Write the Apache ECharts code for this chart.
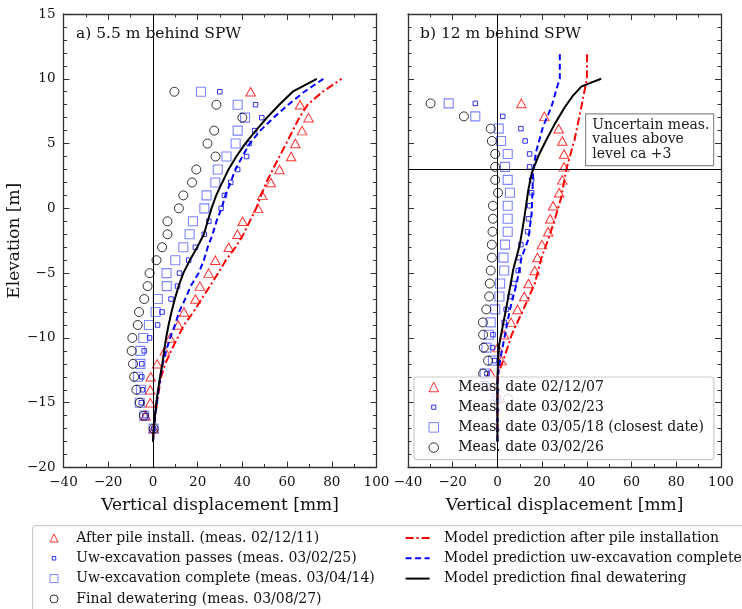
<!DOCTYPE html>
<html>
<head>
<meta charset="utf-8">
<script src="https://cdn.jsdelivr.net/npm/echarts@6/dist/echarts.min.js"></script>
<style>
  html, body { margin: 0; padding: 0; background: #ffffff; }
  #chart { width: 742px; height: 609px; }
</style>
</head>
<body>
<div id="chart"></div>
<script>
// ---------- Panel a) 5.5 m behind SPW : measured levels [m] ----------
const elevA = [9, 8, 7, 6, 5, 4, 3, 2, 1, 0, -1, -2, -3, -4, -5, -6, -7, -8, -9, -10, -11, -12, -13, -14, -15, -16, -17];
// vertical displacement [mm] per survey
const afterPileA   = [43.7, 65.8, 69.6, 66.7, 63.7, 61.8, 56.6, 52.7, 48.9, 47.0, 40.1, 37.8, 33.9, 27.9, 24.9, 21.0, 19.0, 13.9, 11.3, 7.7, 5.3, 1.9, -1.0, -1.2, -1.2, -3.3, 0.3];
const uwPassesA    = [29.9, 45.9, 48.7, 45.5, 43.0, 41.9, 37.9, 34.8, 32.0, 30.5, 25.0, 23.0, 19.0, 16.0, 11.9, 11.0, 8.1, 4.1, 2.1, -1.5, -3.9, -5.0, -5.0, -4.7, -5.2, -3.6, 0.3];
const uwCompleteA  = [21.5, 37.9, 41.2, 37.9, 37.0, 32.9, 29.0, 27.9, 24.0, 23.0, 17.9, 16.4, 13.6, 10.0, 6.1, 6.2, 2.2, 1.2, -1.8, -4.3, -5.6, -5.6, -6.7, -5.3, -5.9, -3.9, 0.3];
const finalDewA    = [9.6, 28.4, 40.0, 27.4, 24.4, 28.0, 19.4, 17.5, 13.6, 11.6, 6.5, 6.5, 4.1, 1.6, -1.5, -2.4, -3.9, -6.2, -6.8, -9.2, -9.5, -8.9, -8.4, -7.4, -5.9, -4.0, 0.3];

// model predictions, panel a
const modelElevA   = [-18, -17, -16, -15, -14, -13, -12, -11, -10, -9, -8, -7, -6, -5, -4, -3, -2, -1, 0, 1, 2, 3, 4, 5, 6, 7, 8, 9, 10];
const modelPileA   = [0, 0.4, 1.0, 1.8, 2.7, 3.7, 5.5, 8.1, 11.0, 13.9, 18.1, 21.8, 25.5, 29.2, 32.6, 37.0, 40.5, 43.3, 46.2, 48.4, 50.7, 53.6, 56.6, 59.6, 62.5, 65.5, 69.2, 75.9, 84.4];
const modelUwA     = [0, 0.6, 1.0, 1.8, 2.5, 3.3, 4.4, 5.9, 7.7, 9.9, 11.7, 14.4, 16.9, 20.4, 22.8, 24.5, 26.7, 28.4, 30.7, 32.4, 34.7, 36.9, 40.0, 43.3, 48.0, 54.0, 60.5, 67.7, 76.3];
const modelDewA    = [0, 0.3, 0.9, 1.5, 2.3, 3.2, 4.2, 5.0, 5.9, 7.0, 8.3, 9.8, 11.5, 13.6, 16.5, 19.8, 22.8, 24.5, 26.2, 28.3, 31.0, 33.8, 37.3, 41.3, 46.0, 51.0, 56.5, 62.5, 73.3];

// ---------- Panel b) 12 m behind SPW ----------
const elevB = [8.1, 7.1, 6.15, 5.2, 4.2, 3.2, 2.2, 1.2, 0.2, -0.8, -1.8, -2.8, -3.8, -4.8, -5.8, -6.8, -7.8, -8.8, -9.75, -10.75, -11.75, -12.75, -13.7, -14.7];
const meas021207 = [10.7, 21.0, 27.4, 29.0, 29.8, 29.8, 29.0, 27.6, 24.9, 23.6, 22.7, 19.9, 17.9, 16.7, 13.9, 12.0, 9.0, 6.1, 3.0, 0.1, 1.8, -3.0, -2.0, 0.5];
const meas030223 = [-9.9, 2.4, 10.5, 12.4, 14.4, 14.4, 15.3, 15.3, 14.4, 13.9, 13.5, 10.5, 9.6, 9.3, 7.3, 5.6, 3.9, 3.0, -2.0, -2.2, -1.3, -4.7, -4.0, -0.8];
const meas030518 = [-21.8, -9.9, 0.6, 1.6, 4.6, 3.4, 4.6, 5.6, 4.6, 4.6, 4.6, 3.4, 2.7, 3.0, 1.2, 0.9, -1.0, -3.0, -3.8, -4.9, -2.0, -5.7, -5.7, -0.8];
const meas030226 = [-29.9, -15.0, -3.0, -2.5, -1.0, -1.0, -1.0, 0.3, -2.0, -2.0, -2.2, -2.5, -2.5, -3.0, -3.4, -3.7, -5.0, -6.5, -6.4, -6.1, -4.2, -6.4, -5.5, 4.7];

const modelPileElevB = [11.9, 10, 7.8, 5.3, 3, 0.9, -0.9, -2.4, -3.8, -5.8, -7.8, -9.75, -11.7, -12.7, -13.5, -18];
const modelPileB     = [40.1, 40.0, 37.5, 34.5, 30.8, 28.6, 25.6, 22.7, 19.7, 16.7, 11.6, 6.4, 2.7, 0.4, 0, 0];
const modelUwElevB   = [11.9, 10, 9.6, 7.8, 6.3, 4.5, 3, 1.4, -0.4, -2.4, -3.8, -5.8, -7.8, -9.75, -11.7, -12.7, -13.5, -18];
const modelUwB       = [27.9, 27.9, 27.1, 24.1, 20.4, 17.5, 16.0, 15.7, 15.3, 13.8, 10.8, 8.6, 5.6, 3.4, 1.2, 0.4, 0, 0];
const modelDewElevB  = [10, 9.7, 9.4, 8.7, 7.8, 6.5, 5.3, 4, 2.7, 1.4, -0.4, -1.7, -2.8, -4.7, -6.8, -8.8, -10.6, -13, -18];
const modelDewB      = [46.4, 41.9, 37.5, 33.8, 30.1, 25.6, 21.9, 18.2, 15.3, 13.8, 12.3, 11.1, 10.0, 7.1, 4.9, 2.7, 0.7, 0, 0];

// reference level in panel b [m] and axis ranges
const uncertainLevel = 3;
const xTicks = { min: -40, max: 100, step: 20 };
const yTicks = { min: -20, max: 15, step: 5 };

// ---------- labels ----------
const panelTitles = ['a) 5.5 m behind SPW', 'b) 12 m behind SPW'];
const namesA = ['After pile install. (meas. 02/12/11)', 'Uw-excavation passes (meas. 03/02/25)',
                'Uw-excavation complete (meas. 03/04/14)', 'Final dewatering (meas. 03/08/27)'];
const namesB = ['Meas. date 02/12/07', 'Meas. date 03/02/23', 'Meas. date 03/05/18 (closest date)', 'Meas. date 03/02/26'];
const modelNames = ['Model prediction after pile installation', 'Model prediction uw-excavation complete',
                    'Model prediction final dewatering'];
const noteText = 'Uncertain meas.\nvalues above\nlevel ca +3';

// ---------- helpers ----------
const FONT = 'DejaVu Serif';
const pairs = (xs, ys) => xs.map((x, i) => [x, ys[i]]);
const minus = v => String(v).replace('-', '\u2212');
const AXIS_COLOR = '#333';
const HOLLOW = 'rgba(255,255,255,0)';

const markerStyles = [
  { symbol: 'triangle', symbolSize: [9.5, 8.5], itemStyle: { color: HOLLOW, borderColor: '#ff0000', borderWidth: 1 } },
  { symbol: 'rect', symbolSize: 4.5, itemStyle: { color: HOLLOW, borderColor: '#0000ee', borderWidth: 1 } },
  { symbol: 'rect', symbolSize: 9, itemStyle: { color: HOLLOW, borderColor: 'rgba(20,40,255,0.7)', borderWidth: 1.1 } },
  { symbol: 'circle', symbolSize: 9, itemStyle: { color: HOLLOW, borderColor: '#000000', borderWidth: 1 } }
];
const modelStyles = [
  { color: '#ff0000', width: 2, type: [8, 3, 2, 3] },
  { color: '#0000ff', width: 2, type: [6, 3.5] },
  { color: '#000000', width: 2, type: 'solid' }
];

function xAxisPair(grid, withTitle) {
  const base = {
    gridIndex: grid, type: 'value', min: xTicks.min, max: xTicks.max, interval: xTicks.step,
    axisLine: { show: true, onZero: false, lineStyle: { color: AXIS_COLOR, width: 1.3 } },
    axisTick: { show: true, inside: true, length: 6, lineStyle: { color: AXIS_COLOR, width: 1 } },
    minorTick: { show: true, splitNumber: 2, length: 3.5, lineStyle: { color: AXIS_COLOR, width: 1 } },
    splitLine: { show: false }, minorSplitLine: { show: false }
  };
  return [
    Object.assign({}, base, {
      position: 'bottom',
      axisLabel: { show: true, formatter: minus, fontFamily: FONT, fontSize: 13.5, color: '#111', margin: 8 },
      name: withTitle, nameLocation: 'middle', nameGap: 30,
      nameTextStyle: { fontFamily: FONT, fontSize: 17, color: '#111' }
    }),
    Object.assign({}, base, { position: 'top', axisLabel: { show: false } })
  ];
}
function yAxisPair(grid, showLabels) {
  const base = {
    gridIndex: grid, type: 'value', min: yTicks.min, max: yTicks.max, interval: yTicks.step,
    axisLine: { show: true, onZero: false, lineStyle: { color: AXIS_COLOR, width: 1.3 } },
    axisTick: { show: true, inside: true, length: 6, lineStyle: { color: AXIS_COLOR, width: 1 } },
    minorTick: { show: true, splitNumber: 5, length: 3.5, lineStyle: { color: AXIS_COLOR, width: 1 } },
    splitLine: { show: false }, minorSplitLine: { show: false }
  };
  const left = Object.assign({}, base, {
    position: 'left',
    axisLabel: { show: showLabels, formatter: minus, fontFamily: FONT, fontSize: 13.5, color: '#111', margin: 8 }
  });
  if (showLabels) {
    Object.assign(left, {
      name: 'Elevation [m]', nameLocation: 'middle', nameGap: 35, nameRotate: 90,
      nameTextStyle: { fontFamily: FONT, fontSize: 17, color: '#111' }
    });
  }
  return [left, Object.assign({}, base, { position: 'right', axisLabel: { show: false } })];
}

function scatterSeries(name, xs, ys, k, axis) {
  return Object.assign({
    name: name, type: 'scatter', xAxisIndex: axis, yAxisIndex: axis,
    data: pairs(xs, ys), z: 3
  }, markerStyles[k]);
}
function modelSeries(name, xs, ys, k, axis, marks) {
  const s = {
    name: name, type: 'line', xAxisIndex: axis, yAxisIndex: axis,
    data: pairs(xs, ys), symbol: 'none', smooth: false, clip: true, z: 4,
    lineStyle: modelStyles[k], itemStyle: { color: modelStyles[k].color }
  };
  if (marks) {
    s.markLine = {
      silent: true, symbol: 'none', label: { show: false },
      lineStyle: { color: '#000', width: 1, type: 'solid' },
      emphasis: { disabled: true },
      data: marks
    };
  }
  return s;
}

const measA = [afterPileA, uwPassesA, uwCompleteA, finalDewA];
const measB = [meas021207, meas030223, meas030518, meas030226];

const series = [];
measA.forEach((xs, k) => series.push(scatterSeries(namesA[k], xs, elevA, k, 0)));
series.push(modelSeries(modelNames[0], modelPileA, modelElevA, 0, 0));
series.push(modelSeries(modelNames[1], modelUwA, modelElevA, 1, 0));
series.push(modelSeries(modelNames[2], modelDewA, modelElevA, 2, 0, [{ xAxis: 0 }]));

measB.forEach((xs, k) => series.push(scatterSeries(namesB[k], xs, elevB, k, 2)));
series.push(modelSeries(modelNames[0], modelPileB, modelPileElevB, 0, 2));
series.push(modelSeries(modelNames[1], modelUwB, modelUwElevB, 1, 2));
series.push(modelSeries(modelNames[2], modelDewB, modelDewElevB, 2, 2, [{ xAxis: 0 }, { yAxis: uncertainLevel }]));

const legendText = (padLeft) => ({ fontFamily: FONT, fontSize: 14, color: '#111', lineHeight: 16, padding: [0, 0, 0, padLeft] });
// hollow marker icons kept square; small square drawn inside a larger empty box
const smallSquareIcon = 'path://M0,0M10,10M2.8,2.8L7.2,2.8L7.2,7.2L2.8,7.2Z';
const thinOutline = { borderWidth: 1 };
const markerLegend = names => [
  { name: names[0], itemStyle: thinOutline },
  { name: names[1], icon: smallSquareIcon, itemStyle: thinOutline },
  { name: names[2], itemStyle: thinOutline },
  { name: names[3], itemStyle: thinOutline }
];
// line-only legend entries: hide the marker that line legends add by default
const lineLegend = modelNames.map(n => ({ name: n, itemStyle: { opacity: 0 } }));

const option = {
  animation: false,
  backgroundColor: '#ffffff',
  textStyle: { fontFamily: FONT },
  grid: [
    { left: 63.5, top: 14, width: 313, height: 453.5 },
    { left: 408, top: 14, width: 313, height: 453.5 }
  ],
  xAxis: [].concat(xAxisPair(0, 'Vertical displacement [mm]'), xAxisPair(1, 'Vertical displacement [mm]')),
  yAxis: [].concat(yAxisPair(0, true), yAxisPair(1, false)),
  title: [
    { text: panelTitles[0], left: 76, top: 26, padding: 0, textStyle: { fontFamily: FONT, fontSize: 15.5, fontWeight: 'normal', color: '#111' } },
    { text: panelTitles[1], left: 420, top: 26, padding: 0, textStyle: { fontFamily: FONT, fontSize: 15.5, fontWeight: 'normal', color: '#111' } }
  ],
  legend: [
    {
      orient: 'vertical', left: 49.5, top: 530, padding: 0, itemGap: 4.3,
      itemWidth: 8, itemHeight: 8, selectedMode: false, symbolKeepAspect: true,
      data: markerLegend(namesA),
      textStyle: legendText(13.2)
    },
    {
      orient: 'vertical', left: 404.6, top: 530, padding: 0, itemGap: 4.3,
      itemWidth: 24, itemHeight: 9, selectedMode: false,
      data: lineLegend,
      textStyle: legendText(9.5)
    },
    {
      orient: 'vertical', left: 414, top: 377, padding: [2, 10, 4, 14.5], itemGap: 4.2,
      itemWidth: 9.5, itemHeight: 9.5, selectedMode: false, symbolKeepAspect: true,
      backgroundColor: 'rgba(255,255,255,0.8)', borderColor: '#cccccc', borderWidth: 1.2, borderRadius: 3,
      data: markerLegend(namesB),
      textStyle: legendText(14.7)
    }
  ],
  graphic: [
    {
      type: 'rect', left: 32, top: 525, z: -1,
      shape: { width: 730, height: 100, r: 3 },
      style: { fill: 'rgba(255,255,255,0.8)', stroke: '#cccccc', lineWidth: 1.2 }
    },
    {
      type: 'group', left: 585, top: 113.3, z: 10,
      children: [
        { type: 'rect', shape: { x: 0, y: 0, width: 128, height: 51.7 },
          style: { fill: '#ffffff', stroke: '#8c8c8c', lineWidth: 1.2 } },
        { type: 'text', x: 6.7, y: 4.6,
          style: { text: noteText, font: '14px "DejaVu Serif"', fill: '#222', lineHeight: 14.2 } }
      ]
    }
  ],
  series: series
};

const chart = echarts.init(document.getElementById('chart'), null, { renderer: 'canvas' });
chart.setOption(option);
</script>
</body>
</html>
